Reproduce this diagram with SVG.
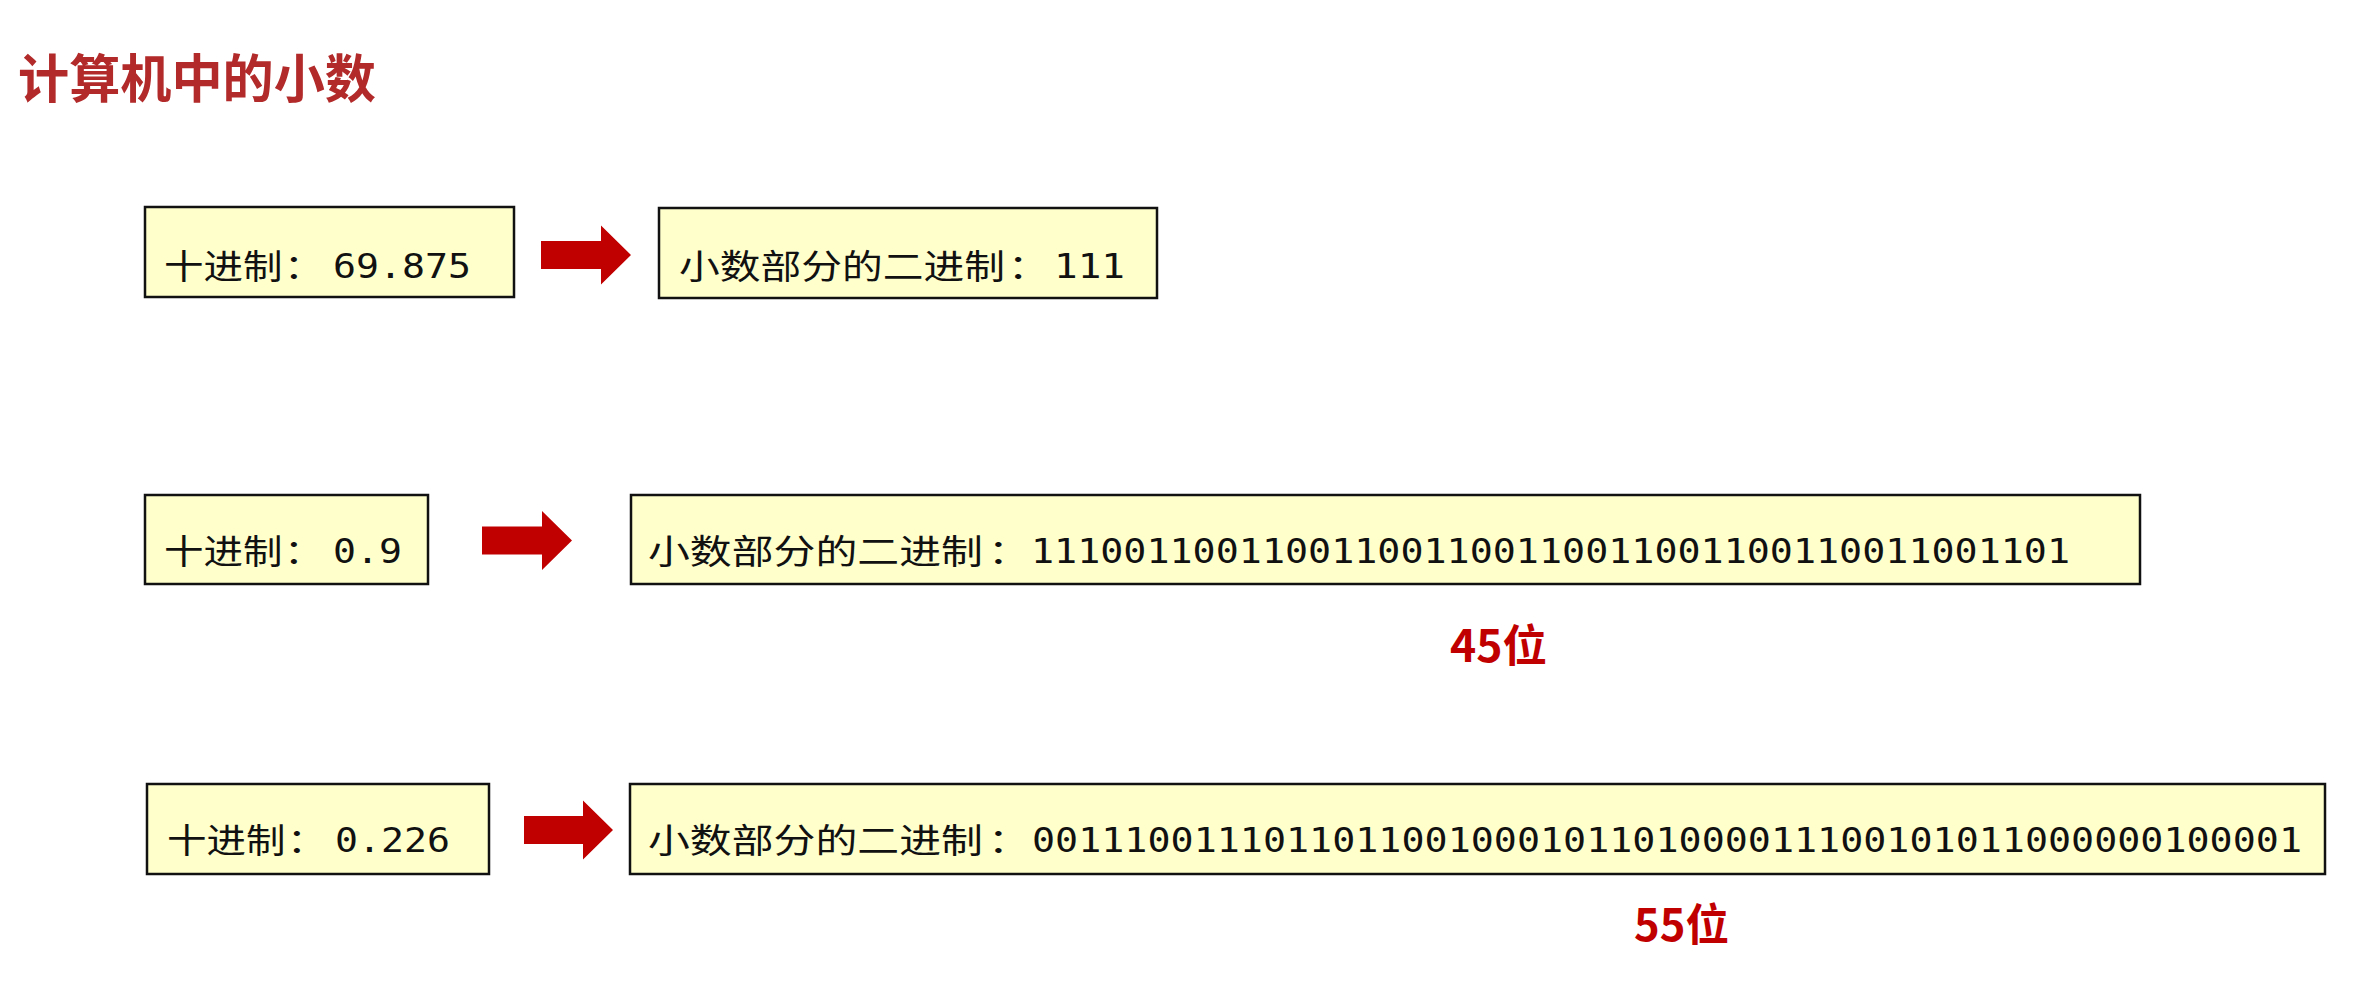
<svg xmlns="http://www.w3.org/2000/svg" width="2365" height="981" viewBox="0 0 2365 981">
<style>
.bg{fill:#ffffff}
.box{fill:#ffffcc;stroke:#111111;stroke-width:2.5}
.cjk{font-family:"Noto Sans CJK SC","Noto Sans",sans-serif;font-size:34px;fill:#111111}
.num{font-family:"DejaVu Sans Mono","Liberation Mono",monospace;font-size:33px;fill:#111111}
.title{font-family:"Noto Sans CJK SC","Noto Sans",sans-serif;font-size:52px;font-weight:bold;fill:#b22a2a}
.bits{font-family:"Noto Sans CJK SC","Noto Sans",sans-serif;font-size:44px;font-weight:bold;fill:#c00000}
.arrow{fill:#c00000}
</style>
<rect class="bg" x="0" y="0" width="2365" height="981"/>
<g id="title"><text class="title" x="18" y="98" textLength="358" lengthAdjust="spacingAndGlyphs">计算机中的小数</text></g>

<g id="dec1"><rect class="box" x="145" y="207" width="369" height="90"/>
<text class="cjk" x="164" y="279" textLength="118.5" lengthAdjust="spacingAndGlyphs">十进制</text>
<text class="cjk" x="284" y="279" textLength="39.5" lengthAdjust="spacingAndGlyphs">：</text>
<text class="num" x="333" y="278" textLength="138" lengthAdjust="spacingAndGlyphs">69.875</text></g>

<g id="bin1"><rect class="box" x="659" y="208" width="498" height="90"/>
<text class="cjk" x="679" y="279" textLength="326" lengthAdjust="spacingAndGlyphs">小数部分的二进制</text>
<text class="cjk" x="1008" y="279" textLength="40.5" lengthAdjust="spacingAndGlyphs">：</text>
<text class="num" x="1054" y="278" textLength="71" lengthAdjust="spacingAndGlyphs">111</text></g>

<g id="dec2"><rect class="box" x="145" y="495" width="283" height="89"/>
<text class="cjk" x="164" y="564" textLength="118.5" lengthAdjust="spacingAndGlyphs">十进制</text>
<text class="cjk" x="284" y="564" textLength="39.5" lengthAdjust="spacingAndGlyphs">：</text>
<text class="num" x="333" y="563" textLength="69" lengthAdjust="spacingAndGlyphs">0.9</text></g>

<g id="bin2"><rect class="box" x="631" y="495" width="1509" height="89"/>
<text class="cjk" x="648" y="564" textLength="335" lengthAdjust="spacingAndGlyphs">小数部分的二进制</text>
<text class="cjk" x="988" y="564" textLength="41.5" lengthAdjust="spacingAndGlyphs">：</text>
<text class="num" x="1031" y="563" textLength="1039" lengthAdjust="spacingAndGlyphs">111001100110011001100110011001100110011001101</text></g>
<g id="note45"><text class="bits" x="1450" y="662" textLength="97" lengthAdjust="spacingAndGlyphs">45位</text></g>

<g id="dec3"><rect class="box" x="147" y="784" width="342" height="90"/>
<text class="cjk" x="167" y="853" textLength="118.5" lengthAdjust="spacingAndGlyphs">十进制</text>
<text class="cjk" x="287" y="853" textLength="39.5" lengthAdjust="spacingAndGlyphs">：</text>
<text class="num" x="335" y="852" textLength="115" lengthAdjust="spacingAndGlyphs">0.226</text></g>

<g id="bin3"><rect class="box" x="630" y="784" width="1695" height="90"/>
<text class="cjk" x="648" y="853" textLength="335" lengthAdjust="spacingAndGlyphs">小数部分的二进制</text>
<text class="cjk" x="988" y="853" textLength="41.5" lengthAdjust="spacingAndGlyphs">：</text>
<text class="num" x="1032" y="852" textLength="1270" lengthAdjust="spacingAndGlyphs">0011100111011011001000101101000011100101011000000100001</text></g>
<g id="note55"><text class="bits" x="1634" y="941" textLength="95" lengthAdjust="spacingAndGlyphs">55位</text></g>

<g id="connectors">
<polygon class="arrow" points="541,241 601,241 601,225.5 631,255 601,284.5 601,269 541,269"/>
<polygon class="arrow" points="482,526.5 542,526.5 542,511 572,540.5 542,570 542,554.5 482,554.5"/>
<polygon class="arrow" points="524,816 583,816 583,800.5 613,830 583,859.5 583,844 524,844"/>
</g>
</svg>
